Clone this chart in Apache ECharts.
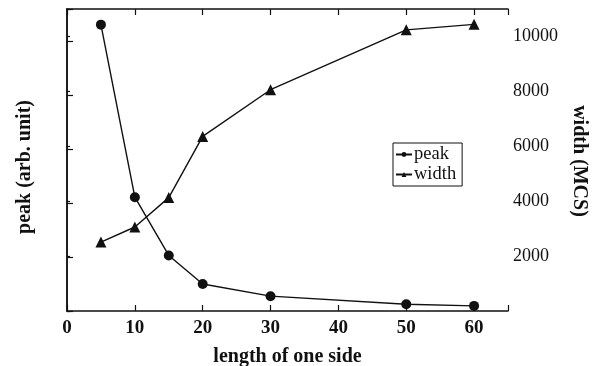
<!DOCTYPE html>
<html>
<head>
<meta charset="utf-8">
<script src="https://cdn.jsdelivr.net/npm/echarts@6/dist/echarts.min.js"></script>
<style>
  html, body { margin: 0; padding: 0; background: #fff; }
  #chart { width: 594px; height: 366px; }
</style>
</head>
<body>
<div id="chart"></div>
<script>
// peak / width vs length of one side
const sides = [5, 10, 15, 20, 30, 50, 60]
const peakValues = [5310, 2110, 1030, 500, 275, 125, 95]      // arb. unit
const widthValues = [2510, 3060, 4130, 6360, 8060, 10240, 10440] // MCS
const xTicks = [0, 10, 20, 30, 40, 50, 60]
const widthTicks = [2000, 4000, 6000, 8000, 10000]

const font = 'Liberation Serif'
const ink = '#111'

const chart = echarts.init(document.getElementById('chart'))

const xBase = {
  type: 'value',
  min: 0,
  max: 65,
  interval: 10,
  splitLine: { show: false },
  axisLine: { show: true, onZero: false, lineStyle: { color: ink, width: 1.5 } },
  axisTick: { show: true, inside: true, length: 6, lineStyle: { color: ink, width: 1.2 } }
}

chart.setOption({
  animation: false,
  grid: { left: 67, right: 86, top: 9, bottom: 55, containLabel: false, outerBoundsMode: 'none' },
  legend: {
    orient: 'vertical',
    left: 393,
    top: 143,
    padding: [2, 6, 2, 2],
    itemGap: 1,
    itemWidth: 16,
    itemHeight: 6,
    borderColor: ink,
    borderWidth: 1,
    textStyle: { fontFamily: font, fontSize: 18.5, color: ink, padding: [0, 0, 0, -3] },
    data: ['peak', 'width']
  },
  xAxis: [
    Object.assign({}, xBase, {
      position: 'bottom',
      name: 'length of one side',
      nameLocation: 'middle',
      nameGap: 36,
      nameTextStyle: { fontFamily: font, fontSize: 20, fontWeight: 'bold', color: ink },
      axisLabel: {
        fontFamily: font, fontSize: 19, fontWeight: 'bold', color: ink, margin: 8,
        formatter: v => xTicks.includes(v) ? String(v) : ''
      }
    }),
    Object.assign({}, xBase, {
      position: 'top',
      axisLabel: { show: false }
    })
  ],
  yAxis: [
    {
      type: 'value',
      position: 'left',
      min: 0,
      max: 5600,
      interval: 1000,
      name: 'peak (arb. unit)',
      nameLocation: 'middle',
      nameGap: 32,
      nameTextStyle: { fontFamily: font, fontSize: 20, fontWeight: 'bold', color: ink, padding: [0, 14, 0, 0] },
      splitLine: { show: false },
      axisLine: { show: true, lineStyle: { color: ink, width: 1.5 } },
      axisTick: { show: true, inside: true, length: 6, lineStyle: { color: ink, width: 1.2 } },
      axisLabel: { show: false }
    },
    {
      type: 'value',
      position: 'right',
      min: 0,
      max: 11000,
      interval: 2000,
      name: 'width (MCS)',
      nameLocation: 'middle',
      nameRotate: -90,
      nameGap: 60,
      nameTextStyle: { fontFamily: font, fontSize: 20, fontWeight: 'bold', color: ink, padding: [0, 0, 0, 2] },
      splitLine: { show: false },
      axisLine: { show: true, lineStyle: { color: ink, width: 1.5 } },
      axisTick: { show: true, inside: false, length: 3, lineStyle: { color: ink, width: 1.2 } },
      axisLabel: {
        fontFamily: font, fontSize: 18, color: ink, margin: 5,
        formatter: v => widthTicks.includes(v) ? String(v) : ''
      }
    }
  ],
  series: [
    {
      name: 'peak',
      type: 'line',
      xAxisIndex: 0,
      yAxisIndex: 0,
      symbol: 'circle',
      symbolSize: 10,
      lineStyle: { color: ink, width: 1.4 },
      itemStyle: { color: ink },
      data: sides.map((s, i) => [s, peakValues[i]])
    },
    {
      name: 'width',
      type: 'line',
      xAxisIndex: 0,
      yAxisIndex: 1,
      symbol: 'triangle',
      symbolSize: 11,
      lineStyle: { color: ink, width: 1.4 },
      itemStyle: { color: ink },
      data: sides.map((s, i) => [s, widthValues[i]])
    }
  ]
})
</script>
</body>
</html>
